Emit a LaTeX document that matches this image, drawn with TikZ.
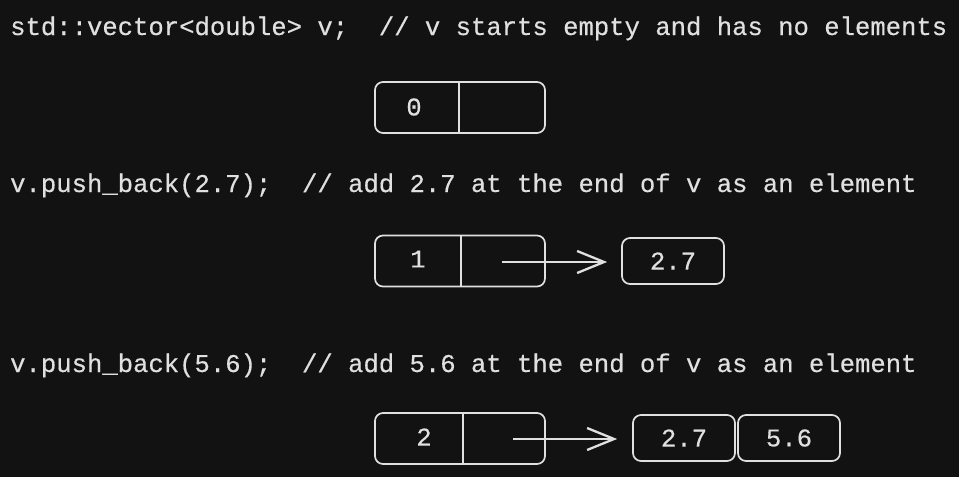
\documentclass[tikz,border=0pt]{standalone}
\usepackage{fontspec}
\setmonofont[FakeBold = 0.4]{Liberation Mono}
\usetikzlibrary{arrows.meta}
\definecolor{bg}{HTML}{121212}
\definecolor{ink}{HTML}{E0E0E0}
\begin{document}
\begin{tikzpicture}[x = 1pt, y = -1pt,
	codeline/.style = {anchor = base west, inner sep = 0pt, text = ink, font = \ttfamily\fontsize{25.6}{30}\selectfont},
	vecbox/.style = {draw = ink, line width = 1.7pt, rounded corners = 8pt, minimum width = 170pt, minimum height = 51pt, inner sep = 0pt},
	elembox/.style = {draw = ink, line width = 1.7pt, rounded corners = 8pt, minimum width = 102pt, minimum height = 46pt, inner sep = 0pt, text = ink, font = \ttfamily\fontsize{25.6}{30}\selectfont},
	count/.style = {inner sep = 0pt, text = ink, font = \ttfamily\fontsize{25.6}{30}\selectfont},
	link/.style = {draw = ink, line width = 2.3pt, -{Straight Barb[length = 27pt, width = 22pt, line width = 2.3pt]}}]
	\fill[bg] (0, 0) rectangle (959, 477);
	\useasboundingbox (0, 0) rectangle (959, 477);
	% empty vector
	\node[codeline] (c0) at (10, 35) {std::vector<double> v;\ \ // v starts empty and has no elements};
	\node[vecbox] (v0) at (460, 107.5) {};
	\draw[draw = ink, line width = 1.7pt] (v0.north -| 459, 0) -- (v0.south -| 459, 0);
	\node[count] (n0) at (414, 107) {0};
	% one element
	\node[codeline] (c1) at (10, 192) {v.push\_back(2.7);\ \ // add 2.7 at the end of v as an element};
	\node[vecbox] (v1) at (460, 261) {};
	\draw[draw = ink, line width = 1.7pt] (v1.north -| 461, 0) -- (v1.south -| 461, 0);
	\node[count] (n1) at (418, 259) {1};
	\node[elembox] (e1) at (673, 261) {2.7};
	\coordinate (p1) at (502, 262);
	\draw[link, shorten > = 14pt] (p1) -- (p1 -| e1.west);
	% two elements
	\node[codeline] (c2) at (10, 372) {v.push\_back(5.6);\ \ // add 5.6 at the end of v as an element};
	\node[vecbox] (v2) at (460, 438.5) {};
	\draw[draw = ink, line width = 1.7pt] (v2.north -| 463, 0) -- (v2.south -| 463, 0);
	\node[count] (n2) at (424, 437) {2};
	\node[elembox] (e2) at (684, 438) {2.7};
	\node[elembox] (e3) at (789, 438) {5.6};
	\coordinate (p2) at (513, 439);
	\draw[link, shorten > = 15pt] (p2) -- (p2 -| e2.west);
\end{tikzpicture}
\end{document}
